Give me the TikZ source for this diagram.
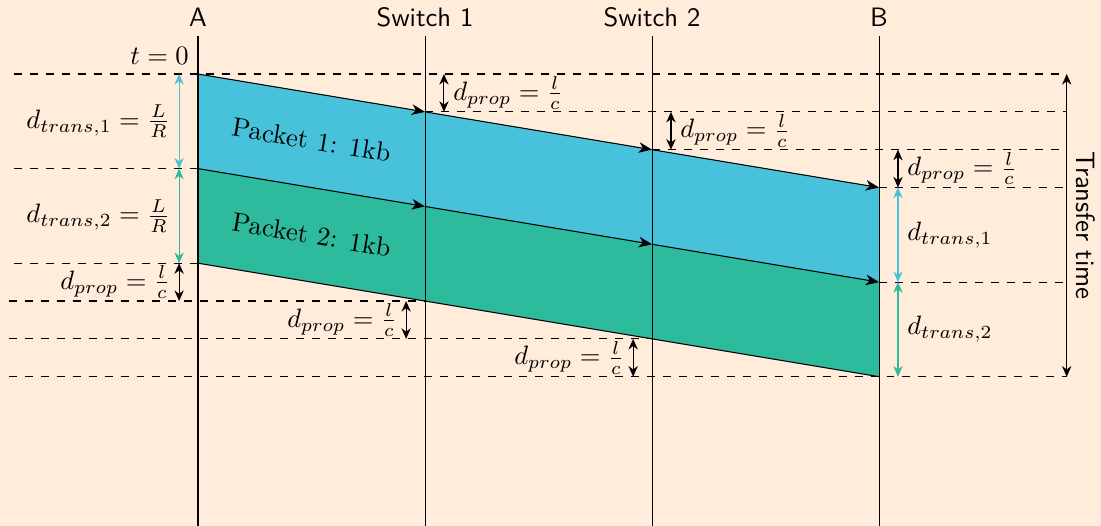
\documentclass[tikz,border=0pt]{standalone}
\usetikzlibrary{arrows.meta}

\definecolor{pagebg}{RGB}{255,236,218}
\definecolor{pktone}{RGB}{72,194,218}
\definecolor{pkttwo}{RGB}{46,187,157}

\tikzset{
  station/.style={thin},
  guide/.style={thin, dashed},
  hop/.style={thin, -{Stealth[length=5pt,width=4pt,inset=1.5pt]}},
  edge/.style={thin},
  span/.style={thin, {Stealth[length=4pt,width=3.5pt,inset=1.3pt]}-{Stealth[length=4pt,width=3.5pt,inset=1.3pt]}},
  stationlabel/.style={above, font=\sffamily},
  pktlabel/.style={rotate=-9.46},
}

\begin{document}
\begin{tikzpicture}
  % page frame and background
  \useasboundingbox (-2.617,0.978) rectangle (11.933,-5.973);
  \fill[pagebg] (-2.617,0.978) rectangle (11.933,-5.973);

  % packet corners at A, Switch 1, Switch 2 and B
  \coordinate (a0) at (0,0);      \coordinate (a1) at (0,-1.25);   \coordinate (a2) at (0,-2.5);
  \coordinate (s0) at (3,-0.5);   \coordinate (s1) at (3,-1.75);   \coordinate (s2) at (3,-3);
  \coordinate (r0) at (6,-1);     \coordinate (r1) at (6,-2.25);   \coordinate (r2) at (6,-3.5);
  \coordinate (b0) at (9,-1.5);   \coordinate (b1) at (9,-2.75);   \coordinate (b2) at (9,-4);

  \fill[pktone] (a0) -- (b0) -- (b1) -- (a1) -- cycle;
  \fill[pkttwo] (a1) -- (b1) -- (b2) -- (a2) -- cycle;

  % stations
  \coordinate (Atop) at (0,0.5);  \coordinate (Abot) at (0,-5.973);
  \coordinate (Stop) at (3,0.5);  \coordinate (Sbot) at (3,-5.973);
  \coordinate (Rtop) at (6,0.5);  \coordinate (Rbot) at (6,-5.973);
  \coordinate (Btop) at (9,0.5);  \coordinate (Bbot) at (9,-5.973);
  \draw[station] (Atop) -- (Abot);
  \draw[station] (Stop) -- (Sbot);
  \draw[station] (Rtop) -- (Rbot);
  \draw[station] (Btop) -- (Bbot);
  \node[stationlabel] (lA) at (Atop) {A};
  \node[stationlabel] (lS) at (Stop) {Switch 1};
  \node[stationlabel] (lR) at (Rtop) {Switch 2};
  \node[stationlabel] (lB) at (Btop) {B};

  % time guides
  \coordinate (gL0) at (-2.43,0);     \coordinate (gR0) at (11.48,0);
  \coordinate (gR1) at (11.48,-0.5);
  \coordinate (gR2) at (11.48,-1);
  \coordinate (gR3) at (11.48,-1.5);
  \coordinate (gR4) at (11.48,-2.75);
  \coordinate (gL1) at (-2.43,-1.25);
  \coordinate (gL2) at (-2.43,-2.5);
  \coordinate (gL3) at (-2.5,-3);
  \coordinate (gL4) at (-2.5,-3.5);
  \coordinate (gL5) at (-2.5,-4);     \coordinate (gR5) at (11.48,-4);
  \draw[guide] (gL0) -- (gR0);
  \draw[guide] (s0) -- (gR1);
  \draw[guide] (r0) -- (gR2);
  \draw[guide] (b0) -- (gR3);
  \draw[guide] (b1) -- (gR4);
  \draw[guide] (gL1) -- (a1);
  \draw[guide] (gL2) -- (a2);
  \draw[guide] (gL3) -- (s2);
  \draw[guide] (gL4) -- (r2);
  \draw[guide] (gL5) -- (gR5);

  % packet edges, hop by hop
  \draw[hop] (a0) -- (s0);
  \draw[hop] (s0) -- (r0);
  \draw[hop] (r0) -- (b0);
  \draw[hop] (a1) -- (s1);
  \draw[hop] (s1) -- (r1);
  \draw[hop] (r1) -- (b1);
  \draw[edge] (a2) -- (b2);

  \node[pktlabel] (p1) at (1.5,-0.875) {Packet 1: 1kb};
  \node[pktlabel] (p2) at (1.5,-2.125) {Packet 2: 1kb};

  \node[above left] (t0) at (a0) {$t=0$};

  % delays measured at the sender
  \coordinate (u0) at (-0.25,0);
  \coordinate (u1) at (-0.25,-1.25);
  \coordinate (u2) at (-0.25,-2.5);
  \coordinate (u3) at (-0.25,-3);
  \draw[span, pktone] (u0) -- node[left, text=black] {$d_{trans,1}=\frac{L}{R}$} (u1);
  \draw[span, pkttwo] (u1) -- node[left, text=black] {$d_{trans,2}=\frac{L}{R}$} (u2);
  \draw[span] (u2) -- node[left] {$d_{prop}=\frac{l}{c}$} (u3);

  % propagation of the first bit of packet 1
  \coordinate (v0) at (3.25,0);    \coordinate (v1) at (3.25,-0.5);
  \coordinate (w0) at (6.25,-0.5); \coordinate (w1) at (6.25,-1);
  \coordinate (x0) at (9.25,-1);   \coordinate (x1) at (9.25,-1.5);
  \draw[span] (v0) -- node[right] {$d_{prop}=\frac{l}{c}$} (v1);
  \draw[span] (w0) -- node[right] {$d_{prop}=\frac{l}{c}$} (w1);
  \draw[span] (x0) -- node[right] {$d_{prop}=\frac{l}{c}$} (x1);

  % transmission at B
  \coordinate (y0) at (9.25,-1.5); \coordinate (y1) at (9.25,-2.75); \coordinate (y2) at (9.25,-4);
  \draw[span, pktone] (y0) -- node[right, text=black] {$d_{trans,1}$} (y1);
  \draw[span, pkttwo] (y1) -- node[right, text=black] {$d_{trans,2}$} (y2);

  % propagation of the last bit of packet 2
  \coordinate (z0) at (2.75,-3);   \coordinate (z1) at (2.75,-3.5);
  \coordinate (q0) at (5.75,-3.5); \coordinate (q1) at (5.75,-4);
  \draw[span] (z0) -- node[left] {$d_{prop}=\frac{l}{c}$} (z1);
  \draw[span] (q0) -- node[left] {$d_{prop}=\frac{l}{c}$} (q1);

  % overall transfer time
  \draw[span] (gR0) -- node[right, rotate=-90, anchor=south, font=\sffamily] {Transfer time} (gR5);
\end{tikzpicture}
\end{document}
